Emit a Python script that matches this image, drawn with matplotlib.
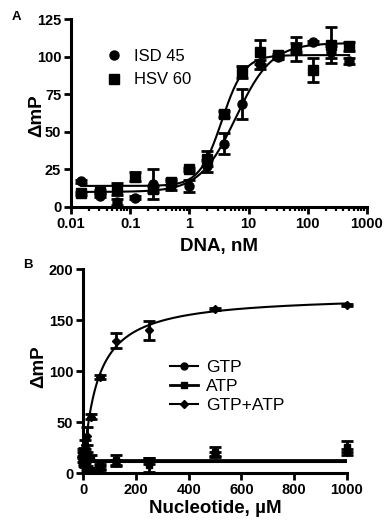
import numpy as np
import matplotlib
matplotlib.use("Agg")
import matplotlib.pyplot as plt
from matplotlib.ticker import LogLocator, NullFormatter

plt.rcParams["font.family"] = ["Liberation Sans", "DejaVu Sans"]

# panel A: DNA titration
dna_nM = [0.015, 0.031, 0.061, 0.122, 0.244, 0.488, 0.977, 1.95, 3.91, 7.81,
          15.6, 31.25, 62.5, 125, 250, 500]
isd45 = [17, 7.5, 3, 6, 15, 14, 14, 27, 42, 68.5, 95, 99.5, 106, 109.5, 103, 97]
isd45_err = [1, 1, 2, 1, 10, 3, 4, 4, 7, 10, 3, 1, 3, 1, 4, 2]
hsv60 = [9, 10, 12, 20, 12, 16.5, 25, 32, 62, 90, 103, 101, 105, 91, 108, 107]
hsv60_err = [1, 1, 4, 3, 2, 2, 1, 5, 2, 4, 8, 1, 8, 8, 12, 3]

# fitted sigmoid parameters (bottom, top, EC50, hill)
isd45_fit = (10, 109, 6.1, 1.43)
hsv60_fit = (14, 101, 3.55, 2.3)

# panel B: nucleotide titration
nuc_uM = [0.98, 1.95, 3.9, 7.8, 15.6, 31.25, 62.5, 125, 250, 500, 1000]
gtp = [18, 14, 10, 8, 5, 3, 5, 10, 12, 19, 21]
gtp_err = [3, 3, 3, 2, 2, 2, 2, 3, 3, 2, 3]
atp = [20, 15, 12, 16, 18, 15, 6.5, 13, 8, 21, 26]
atp_err = [4, 3, 3, 4, 3, 3, 2, 5, 7, 5, 5]
gtp_atp = [14, 18, 22, 28, 36.5, 55.5, 94.6, 130, 140, 161, 165]
gtp_atp_err = [3, 3, 3, 4, 9, 2, 2, 7, 9, 1, 1]

gtp_fit_level = 11
atp_fit_level = 13
gtp_atp_fit = (175, 51)  # Bmax, Kd


def sigmoid(x, bottom, top, ec50, hill):
    return bottom + (top - bottom) / (1 + (ec50 / x) ** hill)


def style_axes(ax):
    for s in ["top", "right"]:
        ax.spines[s].set_visible(False)
    for s in ["left", "bottom"]:
        ax.spines[s].set_linewidth(2.2)
    ax.tick_params(which="major", direction="out", length=5, width=2,
                   labelsize=10.5, pad=2)
    ax.tick_params(which="minor", direction="out", length=3, width=1.6)
    for lab in ax.get_xticklabels() + ax.get_yticklabels():
        lab.set_fontweight("bold")


fig = plt.figure(figsize=(3.92, 5.28), dpi=100)

# ---- panel A
axA = fig.add_axes([0.181, 0.608, 0.755, 0.356])
axA.set_xscale("log")
eb = dict(capsize=4, elinewidth=2, capthick=2, ls="none", color="black",
          clip_on=False)
axA.errorbar(dna_nM, isd45, yerr=isd45_err, fmt="o", ms=6.5, **eb)
axA.errorbar(dna_nM, hsv60, yerr=hsv60_err, fmt="s", ms=6.5, **eb)
xs = np.logspace(np.log10(dna_nM[0]), np.log10(dna_nM[-1]), 300)
axA.plot(xs, sigmoid(xs, *isd45_fit), color="black", lw=1.5)
axA.plot(xs, sigmoid(xs, *hsv60_fit), color="black", lw=1.5)
axA.set_xlim(0.01, 1000)
axA.set_ylim(0, 125)
axA.set_yticks([0, 25, 50, 75, 100, 125])
axA.set_xticks([0.01, 0.1, 1, 10, 100, 1000])
axA.set_xticklabels(["0.01", "0.1", "1", "10", "100", "1000"])
axA.xaxis.set_minor_locator(LogLocator(base=10, subs=np.arange(2, 10), numticks=20))
axA.xaxis.set_minor_formatter(NullFormatter())
style_axes(axA)
axA.set_ylabel("ΔmP", fontsize=13.5, fontweight="bold", va="center")
axA.yaxis.set_label_coords(-0.115, 0.487)
axA.set_xlabel("DNA, nM", fontsize=13.5, fontweight="bold", labelpad=5)

hA = [plt.Line2D([], [], marker="o", ls="none", color="black", ms=6.5),
      plt.Line2D([], [], marker="s", ls="none", color="black", ms=6.5)]
axA.legend(hA, ["ISD 45", "HSV 60"], loc="upper left", bbox_to_anchor=(0.06, 0.92),
           frameon=False, fontsize=12, handletextpad=0.6, labelspacing=0.5,
           handlelength=1.2)
fig.text(0.03, 0.963, "A", fontsize=9.5, fontweight="bold")

# ---- panel B
axB = fig.add_axes([0.212, 0.104, 0.673, 0.386])
axB.errorbar(nuc_uM, gtp, yerr=gtp_err, fmt="o", ms=5, **eb)
axB.errorbar(nuc_uM, atp, yerr=atp_err, fmt="s", ms=5, **eb)
axB.errorbar(nuc_uM, gtp_atp, yerr=gtp_atp_err, fmt="D", ms=4.5, **eb)
xl = np.linspace(0, 1000, 400)
axB.plot(xl, np.full_like(xl, gtp_fit_level), color="black", lw=1.5)
axB.plot(xl, np.full_like(xl, atp_fit_level), color="black", lw=2)
bmax, kd = gtp_atp_fit
axB.plot(xl, bmax * xl / (kd + xl), color="black", lw=1.5)
axB.set_xlim(0, 1000)
axB.set_ylim(0, 200)
axB.set_xticks([0, 200, 400, 600, 800, 1000])
axB.set_yticks([0, 50, 100, 150, 200])
style_axes(axB)
axB.set_ylabel("ΔmP", fontsize=13.5, fontweight="bold", va="center")
axB.yaxis.set_label_coords(-0.17, 0.52)
axB.set_xlabel("Nucleotide, µM", fontsize=13.5, fontweight="bold", labelpad=2)

hB = [plt.Line2D([], [], marker="o", color="black", ms=5, lw=1.5),
      plt.Line2D([], [], marker="s", color="black", ms=5, lw=2),
      plt.Line2D([], [], marker="D", color="black", ms=4.5, lw=1.5)]
axB.legend(hB, ["GTP", "ATP", "GTP+ATP"], loc="upper left",
           bbox_to_anchor=(0.27, 0.63), frameon=False, fontsize=12.5,
           handletextpad=0.5, labelspacing=0.2, handlelength=1.6)
fig.text(0.06, 0.493, "B", fontsize=9.5, fontweight="bold")

fig.savefig("out.png", dpi=100)
